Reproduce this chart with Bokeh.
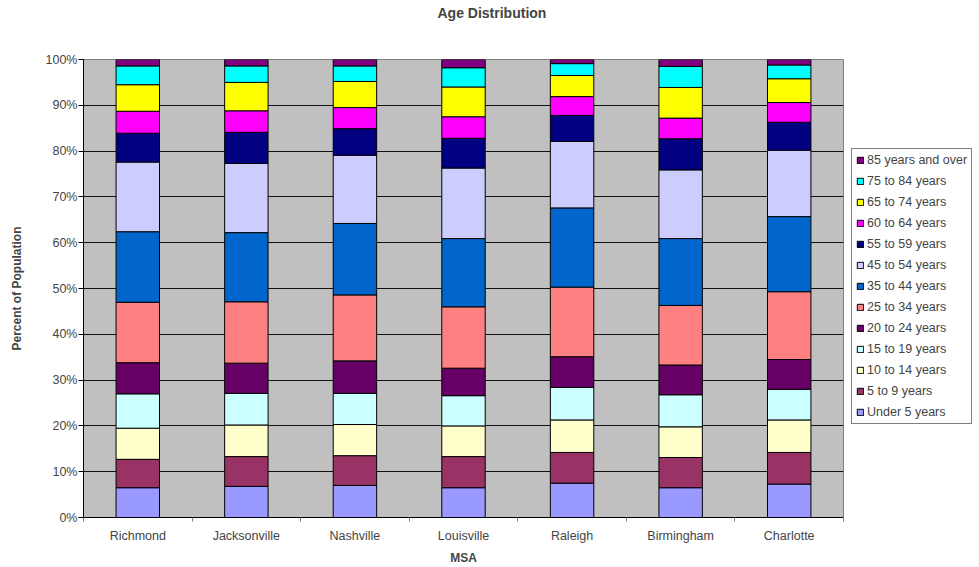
from bokeh.plotting import figure
from bokeh.models import (FixedTicker, PrintfTickFormatter, Legend, LegendItem,
                          ColumnDataSource, Title)
from bokeh.embed import file_html
from bokeh.resources import INLINE

cities = ["Richmond", "Jacksonville", "Nashville", "Louisville", "Raleigh",
          "Birmingham", "Charlotte"]
age_groups = ["Under 5 years", "5 to 9 years", "10 to 14 years", "15 to 19 years",
              "20 to 24 years", "25 to 34 years", "35 to 44 years", "45 to 54 years",
              "55 to 59 years", "60 to 64 years", "65 to 74 years", "75 to 84 years",
              "85 years and over"]

under5 = [6.5, 6.8, 7.0, 6.5, 7.5, 6.5, 7.3]
age5_9 = [6.2, 6.5, 6.5, 6.8, 6.7, 6.6, 6.9]
age10_14 = [6.8, 6.9, 6.8, 6.7, 7.1, 6.7, 7.1]
age15_19 = [7.5, 6.9, 6.8, 6.6, 7.1, 7.0, 6.7]
age20_24 = [6.8, 6.6, 7.1, 6.0, 6.7, 6.5, 6.5]
age25_34 = [13.2, 13.4, 14.4, 13.4, 15.2, 13.0, 14.8]
age35_44 = [15.4, 15.1, 15.6, 14.9, 17.3, 14.6, 16.4]
age45_54 = [15.2, 15.1, 14.9, 15.4, 14.5, 15.0, 14.5]
age55_59 = [6.3, 6.8, 5.8, 6.5, 5.7, 6.8, 6.1]
age60_64 = [4.8, 4.7, 4.6, 4.7, 4.1, 4.5, 4.3]
age65_74 = [5.8, 6.2, 5.7, 6.5, 4.6, 6.7, 5.2]
age75_84 = [4.1, 3.6, 3.4, 4.2, 2.6, 4.6, 3.0]
age85_over = [1.4, 1.4, 1.4, 1.8, 0.9, 1.5, 1.2]

series = [under5, age5_9, age10_14, age15_19, age20_24, age25_34, age35_44,
          age45_54, age55_59, age60_64, age65_74, age75_84, age85_over]
colors = ["#9999FF", "#993366", "#FFFFCC", "#CCFFFF", "#660066", "#FF8080",
          "#0066CC", "#CCCCFF", "#000080", "#FF00FF", "#FFFF00", "#00FFFF",
          "#800080"]
y_ticks = list(range(0, 101, 10))

FONT = "Liberation Sans"

keys = ["s%d" % i for i in range(len(series))]
data = {"x": [i + 0.5 for i in range(len(cities))]}
for k, vals in zip(keys, series):
    data[k] = vals
source = ColumnDataSource(data)

p = figure(frame_width=760, frame_height=458, x_range=(0, len(cities)),
           y_range=(0, 100), title=None,
           output_backend="svg", toolbar_location=None,
           min_border_left=83, min_border_right=0, min_border_top=0,
           min_border_bottom=50)

p.background_fill_color = "#C0C0C0"
p.border_fill_color = "white"
p.outline_line_color = "#808080"

renderers = p.vbar_stack(keys, x="x", width=0.4, source=source,
                         fill_color=colors, line_color="black", line_width=1)

# Spacer between title and frame, then the title itself (outermost)
p.add_layout(Title(text=" ", text_font_size="1px", standoff=30), "above")
p.add_layout(Title(text="Age Distribution", align="left", offset=354,
                   vertical_align="top", standoff=8, text_font=FONT,
                   text_font_size="14px", text_font_style="bold"), "above")

# Grid
p.xgrid.visible = False
p.ygrid.ticker = FixedTicker(ticks=y_ticks)
p.ygrid.grid_line_color = "#111111"
p.ygrid.grid_line_width = 1

# Y axis
ya = p.yaxis[0]
ya.ticker = FixedTicker(ticks=y_ticks)
ya.formatter = PrintfTickFormatter(format="%d%%")
ya.axis_label = "Percent of Population"
ya.axis_label_text_font = FONT
ya.axis_label_text_font_size = "12px"
ya.axis_label_text_font_style = "bold"
ya.axis_label_standoff = 19
ya.major_label_text_font = FONT
ya.major_label_text_font_size = "12.5px"
ya.major_label_standoff = 1
ya.major_tick_out = 5
ya.major_tick_in = 0
ya.minor_tick_line_color = None
ya.axis_line_color = "black"
ya.major_tick_line_color = "black"

# X axis
xa = p.xaxis[0]
xa.ticker = FixedTicker(ticks=data["x"], minor_ticks=list(range(len(cities) + 1)))
xa.major_label_overrides = {xv: c for xv, c in zip(data["x"], cities)}
xa.major_tick_line_color = None
xa.major_tick_out = 0
xa.minor_tick_out = 4
xa.minor_tick_in = 0
xa.minor_tick_line_color = "#808080"
xa.major_label_standoff = 7
xa.major_label_text_font = FONT
xa.major_label_text_font_size = "12.5px"
xa.axis_label = "MSA"
xa.axis_label_text_font = FONT
xa.axis_label_text_font_size = "12px"
xa.axis_label_text_font_style = "bold"
xa.axis_label_standoff = 5
xa.axis_line_color = "black"

# Legend, anchored near the left edge of the right-hand panel
items = [LegendItem(label=lbl, renderers=[r])
         for lbl, r in reversed(list(zip(age_groups, renderers)))]
legend = Legend(items=items, location=(8, 93), ncols=1)
legend.label_text_font = FONT
legend.label_text_font_size = "12.5px"
legend.glyph_width = 8
legend.glyph_height = 8
legend.label_height = 8
legend.label_standoff = 3
legend.spacing = 7
legend.padding = 4
legend.margin = 0
legend.border_line_color = "black"
legend.border_line_width = 1
legend.background_fill_color = "white"
p.add_layout(legend, "right")

open("out.html", "w").write(file_html(p, INLINE))
